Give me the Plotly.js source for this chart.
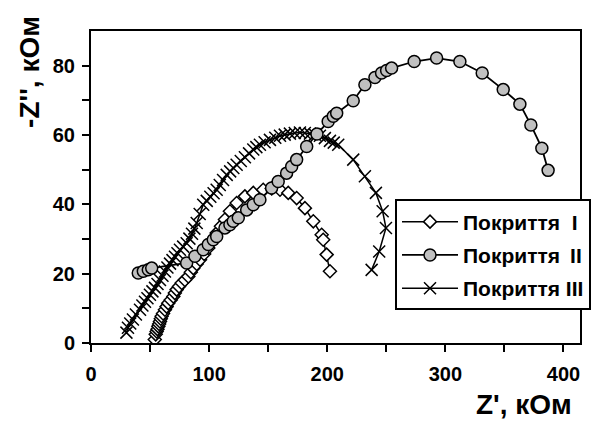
<!DOCTYPE html>
<html>
<head>
<meta charset="utf-8">
<script src="https://cdn.plot.ly/plotly-3.0.1.min.js"></script>
<style>
  html, body { margin: 0; padding: 0; background: #fff; }
  #chart { width: 599px; height: 421px; }
</style>
</head>
<body>
<div id="chart"></div>
<script>
// Series I (diamonds)
const zReI = [54.0, 54.8, 55.6, 56.3, 57.0, 57.7, 58.4, 59.1, 59.8, 61.0, 62.6, 64.0, 65.4, 67.5, 69.7, 71.0, 72.5, 74.5, 76.8, 79.5, 82.4, 84.5, 86.6, 89.5, 92.3, 95.8, 99.3, 102.8, 106.4, 110.0, 113.4, 117.6, 123.3, 130.3, 137.4, 145.8, 153.0, 160.0, 167.0, 174.1, 181.1, 188.2, 195.3, 196.6, 199.5, 202.3];
const zImI = [1.0, 2.5, 3.3, 4.0, 4.8, 5.5, 6.2, 7.0, 7.7, 8.5, 9.6, 10.5, 11.5, 12.4, 13.4, 14.4, 15.4, 16.3, 17.3, 18.2, 19.2, 20.4, 21.6, 22.8, 24.0, 25.7, 27.4, 29.5, 31.7, 33.7, 35.6, 38.0, 40.4, 42.3, 43.3, 44.2, 44.6, 44.2, 43.3, 41.8, 38.9, 35.1, 31.2, 29.8, 25.5, 20.7];

// Series II (grey circles)
const zReII = [40.0, 44.3, 48.5, 51.4, 81.0, 88.0, 95.0, 99.3, 103.5, 106.4, 113.4, 117.6, 120.4, 124.7, 131.8, 137.4, 143.0, 152.9, 158.5, 165.6, 169.9, 174.1, 182.6, 191.3, 200.8, 205.1, 208.0, 222.0, 231.9, 240.4, 246.0, 250.3, 254.5, 273.6, 292.6, 312.3, 331.2, 349.0, 363.1, 372.4, 381.7, 387.0];
const zImII = [20.2, 20.7, 21.1, 21.6, 23.1, 25.0, 26.9, 28.4, 29.8, 30.7, 33.2, 34.1, 35.1, 36.1, 38.4, 39.9, 41.3, 44.7, 46.6, 49.0, 50.9, 52.9, 56.7, 60.3, 63.9, 65.4, 66.3, 69.9, 74.5, 76.6, 77.9, 78.6, 79.3, 81.2, 82.2, 81.2, 77.9, 73.1, 68.9, 62.9, 56.2, 49.8];

// Series III (crosses)
const zReIII = [30.0, 31.3, 33.2, 35.5, 38.0, 41.5, 43.5, 45.7, 47.8, 49.9, 52.0, 54.2, 56.3, 58.4, 60.5, 62.6, 64.7, 66.9, 69.0, 71.1, 73.2, 75.3, 78.0, 81.0, 83.3, 85.5, 87.5, 89.5, 92.0, 95.0, 98.0, 101.0, 103.8, 106.4, 109.0, 111.8, 114.9, 117.8, 120.5, 123.3, 126.8, 130.3, 133.8, 137.4, 140.0, 143.0, 147.0, 151.5, 156.0, 160.0, 164.0, 168.4, 172.5, 176.9, 181.0, 185.4, 189.5, 193.8, 198.0, 202.3, 205.5, 209.3, 222.0, 231.9, 241.2, 246.9, 249.7, 244.0, 237.6];
const zImIII = [3.0, 4.4, 5.6, 6.8, 8.2, 9.6, 10.8, 11.9, 12.9, 13.9, 14.9, 15.9, 17.0, 18.2, 19.4, 20.6, 21.8, 22.9, 23.9, 24.9, 25.9, 26.9, 27.8, 28.8, 30.1, 31.5, 33.0, 34.6, 37.2, 39.9, 41.0, 42.2, 43.2, 44.2, 45.6, 47.0, 48.5, 49.5, 50.5, 51.4, 52.5, 53.6, 54.7, 55.8, 56.5, 57.2, 57.9, 58.6, 59.2, 59.8, 60.1, 60.4, 60.6, 60.7, 60.6, 60.4, 60.1, 59.8, 59.1, 58.3, 57.8, 57.2, 52.9, 48.1, 43.3, 38.0, 33.2, 26.4, 21.1];

const seriesNames = ['Покриття\u00a0\u00a0I', 'Покриття\u00a0\u2009II', 'Покриття III'];
const xTickVals = [0, 100, 200, 300, 400];
const yTickVals = [0, 20, 40, 60, 80];

const FONT = 'Arial, "Liberation Sans", sans-serif';

const traces = [
  {
    x: zReIII, y: zImIII, name: seriesNames[2], legendgroup: 'c', legendrank: 3,
    type: 'scatter', mode: 'lines+markers',
    line: { color: '#000', width: 1.5 },
    marker: { symbol: 'x-thin', size: 12, line: { color: '#000', width: 1.5 } }
  },
  {
    x: zReI, y: zImI, name: seriesNames[0], legendgroup: 'a', legendrank: 1,
    type: 'scatter', mode: 'lines+markers',
    line: { color: '#000', width: 1.5 },
    marker: { symbol: 'diamond', size: 10, color: '#fff', line: { color: '#000', width: 1.5 } }
  },
  {
    x: zReII, y: zImII, name: seriesNames[1], legendgroup: 'b', legendrank: 2,
    type: 'scatter', mode: 'lines+markers',
    line: { color: '#000', width: 1.8 },
    marker: { symbol: 'circle', size: 12, color: '#c0c0c0', line: { color: '#000', width: 1.5 } }
  }
];

const layout = {
  width: 599, height: 421,
  margin: { l: 91, r: 19, t: 31, b: 78, autoexpand: false },
  paper_bgcolor: '#fff', plot_bgcolor: '#fff',
  font: { family: FONT, color: '#000', size: 20, weight: 'bold' },
  showlegend: true,
  legend: {
    x: 0.6217, y: 0.46, xanchor: 'left', yanchor: 'top',
    bgcolor: '#fff', bordercolor: '#000', borderwidth: 2,
    font: { family: FONT, size: 21, color: '#000', weight: 'bold' },
    tracegroupgap: 3, itemwidth: 56, traceorder: 'grouped'
  },
  xaxis: {
    range: [0, 414], tickvals: xTickVals, ticktext: xTickVals.map(String),
    showgrid: false, zeroline: false,
    showline: true, linecolor: '#000', linewidth: 2, mirror: true,
    ticks: 'outside', ticklen: 7, tickwidth: 2, tickcolor: '#000',
    ticklabelstandoff: 5,
    minor: { tickvals: [50, 150, 250, 350], ticks: 'outside', ticklen: 7, tickwidth: 2, tickcolor: '#000', showgrid: false },
    tickfont: { family: FONT, size: 20, color: '#000', weight: 'bold' }
  },
  yaxis: {
    range: [0, 90], tickvals: yTickVals, ticktext: yTickVals.map(String),
    showgrid: false, zeroline: false,
    showline: true, linecolor: '#000', linewidth: 2, mirror: true,
    ticks: 'outside', ticklen: 7, tickwidth: 2, tickcolor: '#000',
    ticklabelstandoff: 3,
    minor: { tickvals: [10, 30, 50, 70], ticks: 'outside', ticklen: 7, tickwidth: 2, tickcolor: '#000', showgrid: false },
    tickfont: { family: FONT, size: 20, color: '#000', weight: 'bold' }
  },
  annotations: [
    {
      text: "Z', кОм", xref: 'paper', yref: 'paper', x: 0.8855, y: -0.196,
      xanchor: 'center', yanchor: 'middle', showarrow: false,
      font: { family: FONT, size: 28, color: '#000', weight: 'bold' }
    },
    {
      text: "-Z'', кОм", xref: 'paper', yref: 'paper', x: -0.1247, y: 0.869,
      xanchor: 'center', yanchor: 'middle', showarrow: false, textangle: -90,
      font: { family: FONT, size: 28, color: '#000', weight: 'bold' }
    }
  ]
};

Plotly.newPlot('chart', traces, layout, { displayModeBar: false, staticPlot: true });
</script>
</body>
</html>
